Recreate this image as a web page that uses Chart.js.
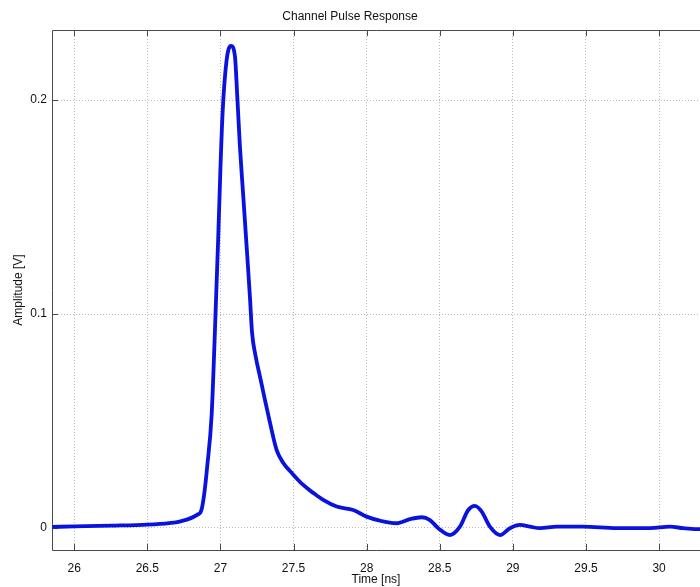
<!DOCTYPE html>
<html>
<head>
<meta charset="utf-8">
<title>Channel Pulse Response</title>
<script src="https://cdn.jsdelivr.net/npm/chart.js@4.4.1/dist/chart.umd.min.js"></script>
<style>
    html, body { margin: 0; padding: 0; background: #fff; }
    canvas { display: block; }
</style>
</head>
<body>
<canvas id="pulseChart" width="700" height="587"></canvas>
<script>
const timeNs = [
    25.85, 26.0, 26.25, 26.5, 26.65, 26.72, 26.84, 26.87, 26.89, 26.91,
    26.94, 26.962, 26.985, 27.0, 27.015, 27.042, 27.072, 27.099, 27.115, 27.133,
    27.156, 27.179, 27.202, 27.216, 27.24, 27.27, 27.304, 27.339, 27.384, 27.43,
    27.487, 27.566, 27.635, 27.703, 27.795, 27.908, 28.0, 28.091, 28.205, 28.296,
    28.376, 28.433, 28.49, 28.57, 28.638, 28.695, 28.741, 28.787, 28.843, 28.912,
    28.98, 29.049, 29.117, 29.186, 29.3, 29.48, 29.71, 29.938, 30.075, 30.166,
    30.257, 30.28
];
const amplitudeV = [
    0.0005, 0.0007, 0.0011, 0.0016, 0.0023, 0.003, 0.0061, 0.0084, 0.0164, 0.029,
    0.053, 0.0913, 0.136, 0.168, 0.1944, 0.2185, 0.2254, 0.2207, 0.202, 0.1786,
    0.1552, 0.1318, 0.1077, 0.0915, 0.0805, 0.0709, 0.06, 0.0492, 0.0365, 0.0304,
    0.0258, 0.0201, 0.0164, 0.0131, 0.010, 0.0084, 0.0053, 0.0034, 0.0022, 0.0041,
    0.005, 0.0037, -0.0001, -0.0033, 0.0006, 0.0084, 0.0103, 0.0076, 0.0006, -0.0033,
    -0.0001, 0.0014, 0.0006, -0.0001, 0.0006, 0.0006, -0.0001, -0.0001, 0.0006, -0.0001,
    -0.0005, -0.0005
];
const xTickValues = [26, 26.5, 27, 27.5, 28, 28.5, 29, 29.5, 30];
const yTickValues = [0, 0.1, 0.2];

const fontFamily = "'Liberation Sans', Arial, Helvetica, sans-serif";

// frame + inward tick marks, matlab style
const framePlugin = {
    id: "frame",
    beforeDatasetsDraw(chart) {
        const { ctx, chartArea: a, scales } = chart;
        ctx.save();
        ctx.strokeStyle = "#4a4a4a";
        ctx.lineWidth = 1;
        ctx.beginPath();
        ctx.moveTo(a.left + 0.5, a.bottom + 0.5);
        ctx.lineTo(a.left + 0.5, a.top + 0.5);
        ctx.lineTo(a.right, a.top + 0.5);
        ctx.moveTo(a.left + 0.5, a.bottom + 0.5);
        ctx.lineTo(a.right, a.bottom + 0.5);
        xTickValues.forEach(v => {
            const px = Math.round(scales.x.getPixelForValue(v)) + 0.5;
            ctx.moveTo(px, a.bottom);
            ctx.lineTo(px, a.bottom - 6);
            ctx.moveTo(px, a.top);
            ctx.lineTo(px, a.top + 6);
        });
        yTickValues.forEach(v => {
            const py = Math.round(scales.y.getPixelForValue(v)) + 0.5;
            ctx.moveTo(a.left, py);
            ctx.lineTo(a.left + 6, py);
        });
        ctx.stroke();
        ctx.restore();
    }
};

new Chart(document.getElementById("pulseChart"), {
    type: "line",
    data: {
        datasets: [{
            label: "Pulse response",
            data: timeNs.map((t, i) => ({ x: t, y: amplitudeV[i] })),
            borderColor: "rgb(10, 18, 222)",
            borderWidth: 3.8,
            pointRadius: 0,
            cubicInterpolationMode: "monotone",
            fill: false
        }]
    },
    options: {
        responsive: false,
        animation: false,
        layout: { padding: 0 },
        plugins: {
            legend: { display: false },
            tooltip: { enabled: false },
            title: {
                display: true,
                text: "Channel Pulse Response",
                color: "#111",
                font: { family: fontFamily, size: 12, weight: "normal" },
                padding: { top: 9, bottom: 6.6 }
            }
        },
        scales: {
            x: {
                type: "linear",
                min: 25.848,
                max: 30.28,
                afterBuildTicks: scale => {
                    scale.ticks = xTickValues.map(v => ({ value: v }));
                },
                afterFit: scale => { scale.height = 37; },
                grid: { color: "#b8b8b8", drawTicks: false },
                border: { display: false, dash: [1, 2] },
                ticks: {
                    color: "#111",
                    padding: 11,
                    maxRotation: 0,
                    font: { family: fontFamily, size: 12 },
                    callback: v => String(v)
                },
                title: {
                    display: true,
                    text: "Time [ns]",
                    color: "#111",
                    font: { family: fontFamily, size: 12 },
                    padding: { top: 0, bottom: 0 }
                }
            },
            y: {
                min: -0.0103,
                max: 0.2328,
                afterBuildTicks: scale => {
                    scale.ticks = yTickValues.map(v => ({ value: v }));
                },
                afterFit: scale => { scale.width = 52; },
                grid: { color: "#b8b8b8", drawTicks: false },
                border: { display: false, dash: [1, 2] },
                ticks: {
                    color: "#111",
                    padding: 5,
                    font: { family: fontFamily, size: 12 },
                    callback: v => String(v)
                },
                title: {
                    display: true,
                    text: "Amplitude [V]",
                    color: "#111",
                    font: { family: fontFamily, size: 12 },
                    padding: { top: 11, bottom: 0 }
                }
            }
        }
    },
    plugins: [framePlugin]
});
</script>
</body>
</html>
